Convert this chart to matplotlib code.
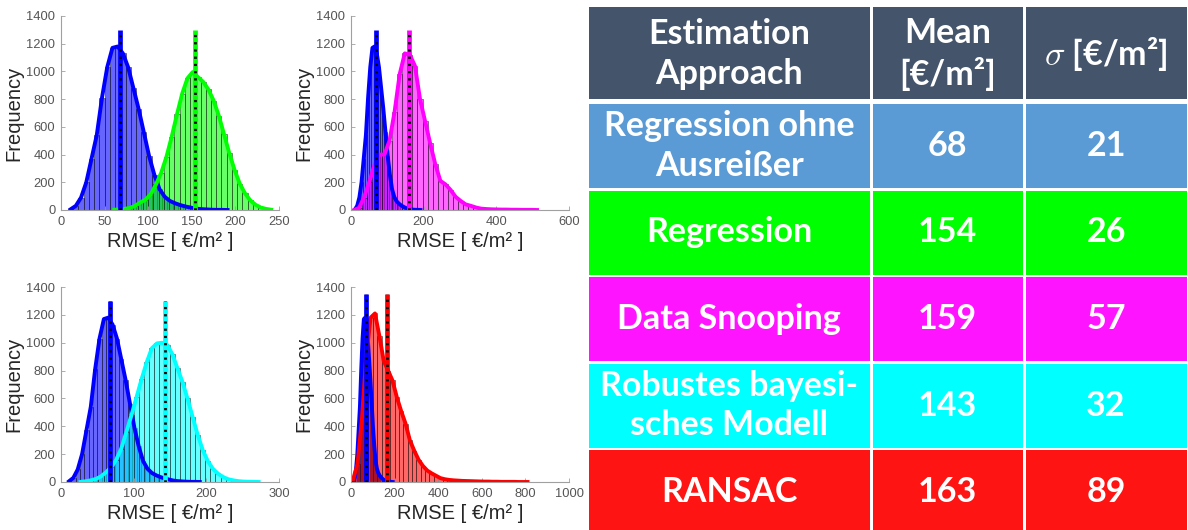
import numpy as np
import matplotlib.pyplot as plt
from matplotlib.patches import Rectangle

plt.rcParams['font.family'] = ['Liberation Sans', 'DejaVu Sans']
plt.rcParams['mathtext.fontset'] = 'cm'

# --- histogram data (bin centers, counts) ---
blue_centers = np.arange(11, 192, 6)
blue_counts = [5, 30, 90, 200, 370, 540, 810, 1030, 1170, 1180, 1130, 1030, 880, 730,
               560, 390, 255, 150, 95, 65, 48, 35, 25, 17, 10, 6, 4, 2, 1, 1, 0]

green_centers = np.arange(61, 242, 6)
green_counts = [2, 4, 8, 15, 30, 55, 75, 115, 185, 270, 385, 530, 690, 840, 950, 995,
                960, 925, 870, 790, 680, 545, 410, 290, 190, 120, 70, 38, 18, 8, 2]

magenta_centers = np.arange(8, 513, 14)
magenta_counts = [0, 15, 90, 200, 320, 400, 400, 500, 710, 980, 1130, 1120, 1040, 800,
                  640, 480, 330, 210, 185, 145, 95, 65, 40, 30, 18, 10, 7, 5, 4, 3, 3,
                  2, 2, 1, 1, 1, 0]

cyan_centers = np.arange(27, 273, 7)
cyan_counts = [1, 5, 12, 22, 40, 70, 105, 160, 240, 360, 480, 610, 740, 860, 960, 995,
               1000, 985, 920, 820, 720, 600, 470, 340, 230, 150, 95, 60, 36, 20, 12, 6,
               3, 2, 1, 0]

red_centers = np.arange(10, 811, 20)
red_counts = [20, 130, 450, 900, 1180, 1210, 1050, 870, 800, 730, 610, 510, 420, 300,
              225, 160, 115, 82, 62, 45, 28, 20, 15, 12, 10, 8, 7, 6, 5, 4, 3, 3, 2, 2,
              1, 1, 1, 1, 0, 0, 0]

# --- table data ---
approaches = ["Regression ohne\nAusreißer", "Regression", "Data Snooping",
              "Robustes bayesi-\nsches Modell", "RANSAC"]
means = [68, 154, 159, 143, 163]
sigmas = [21, 26, 57, 32, 89]
row_colors = ["#5B9BD5", "#00FF00", "#FF14FF", "#00FFFF", "#FF1414"]
header_color = "#44546A"

blue_mean = means[0]
panels = [
    # (second series, colour, mean, xmax, xticks, line top)
    (green_centers, green_counts, (0, 1, 0), means[1], 250, [0, 50, 100, 150, 200, 250], 1300),
    (magenta_centers, magenta_counts, (1, 0, 1), means[2], 600, [0, 200, 400, 600], 1300),
    (cyan_centers, cyan_counts, (0, 1, 1), means[3], 300, [0, 100, 200, 300], 1300),
    (red_centers, red_counts, (1, 0, 0), means[4], 1000, [0, 200, 400, 600, 800, 1000], 1350),
]

W, H = 1188, 530
fig = plt.figure(figsize=(W / 100, H / 100), dpi=100)

# axes boxes in pixels (left, top, right, bottom)
boxes = [(61, 16, 279, 210), (351, 16, 569, 210), (61, 287, 279, 482), (351, 287, 569, 482)]


def draw_hist(ax, centers, counts, color):
    centers = np.asarray(centers)
    width = centers[1] - centers[0]
    ax.bar(centers, counts, width=width, color=color, alpha=0.6,
           edgecolor=(0, 0, 0, 0.5), linewidth=0.5)
    ax.plot(centers, counts, color=color, lw=2.8, solid_joinstyle='round')


def mean_line(ax, m, top, color):
    ax.plot([m, m], [0, top], color=color, lw=3.4, solid_capstyle='butt')
    ax.plot([m, m], [0, top], color='k', lw=2.0, dashes=(0.8, 1.8))


for (l, t, r, b), (c2, n2, col, m2, xmax, xt, top) in zip(boxes, panels):
    ax = fig.add_axes([l / W, 1 - b / H, (r - l) / W, (b - t) / H])
    draw_hist(ax, blue_centers, blue_counts, (0, 0, 1))
    draw_hist(ax, c2, n2, col)
    mean_line(ax, blue_mean, top, (0, 0, 1))
    mean_line(ax, m2, top, col)
    ax.set_xlim(0, xmax)
    ax.set_ylim(0, 1400)
    ax.set_xticks(xt)
    ax.set_yticks(range(0, 1401, 200))
    for s in ['top', 'right']:
        ax.spines[s].set_visible(False)
    for s in ['left', 'bottom']:
        ax.spines[s].set_color('#a0a0a0')
        ax.spines[s].set_linewidth(0.8)
    ax.tick_params(direction='in', length=3, width=0.6, color='#a0a0a0',
                   labelsize=9.3, labelcolor='#555555', pad=4)
    ax.set_xlabel("RMSE [ €/m² ]", fontsize=14.5, color='#262626', labelpad=3)
    ax.set_ylabel("Frequency", fontsize=14.5, color='#262626', labelpad=2)

# --- table on the right, in pixel coordinates ---
tax = fig.add_axes([0, 0, 1, 1])
tax.set_xlim(0, W)
tax.set_ylim(H, 0)
tax.axis('off')

col_edges = [589, 871, 1024, 1188]
gap = 1.5
header_top, header_bot = 7, 99
row_top0, row_step, row_h = 104, 86.5, 84

tfont = dict(family=['Lato', 'DejaVu Sans'], weight='bold', color='white',
             ha='center', va='center', fontsize=24.5, linespacing=1.3)

headers = ["Estimation\nApproach", "Mean\n[€/m²]", r"$\sigma$ [€/m²]"]
for j in range(3):
    x0, x1 = col_edges[j] + (gap if j else 0), col_edges[j + 1] - gap
    tax.add_patch(Rectangle((x0, header_top), x1 - x0, header_bot - header_top,
                            facecolor=header_color, edgecolor='none'))
    tax.text((x0 + x1) / 2, (header_top + header_bot) / 2 + 1, headers[j], **tfont)

for i, (name, m, s, c) in enumerate(zip(approaches, means, sigmas, row_colors)):
    y0 = row_top0 + i * row_step
    y1 = min(y0 + row_h, H + 5)
    cells = [name, str(m), str(s)]
    for j in range(3):
        x0, x1 = col_edges[j] + (gap if j else 0), col_edges[j + 1] - gap
        tax.add_patch(Rectangle((x0, y0), x1 - x0, y1 - y0, facecolor=c, edgecolor='none'))
        tax.text((x0 + x1) / 2, y0 + row_h / 2, cells[j], **tfont)

fig.savefig("out.png", dpi=100)
